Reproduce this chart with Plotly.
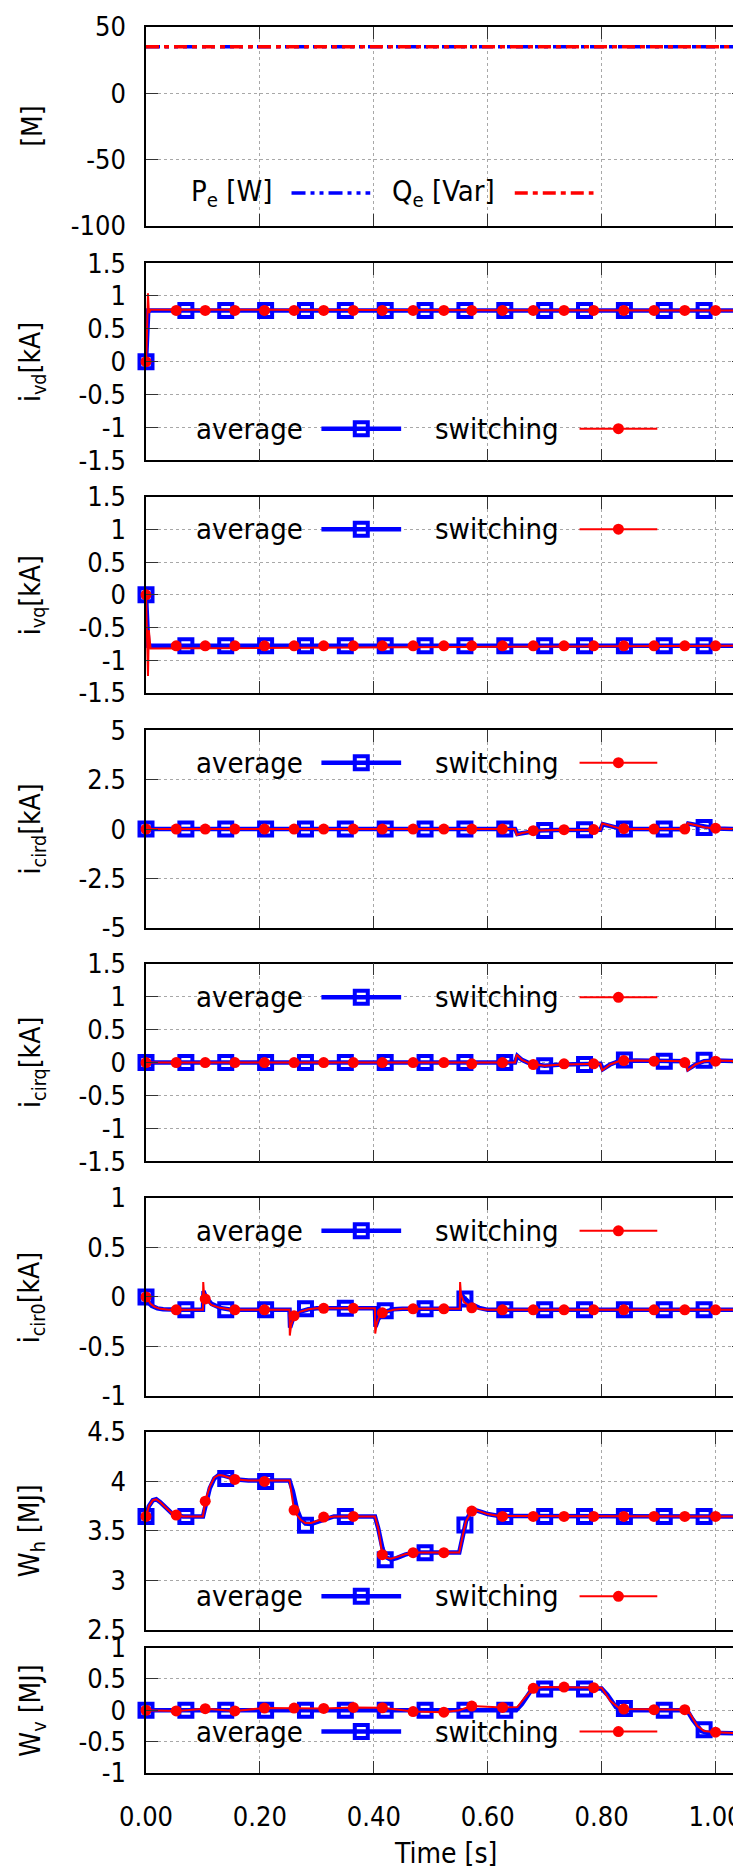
import plotly.graph_objects as go

# ---------------- data ----------------
# Panel 1: electrical powers [M]
t_pq = [0.0, 1.05]
pe_vals = [35.0, 35.0]
qe_vals = [35.0, 35.0]

# marker sample times (gnuplot point interval)
t_avg_mk = [0.0, 0.07, 0.14, 0.21, 0.28, 0.35, 0.42, 0.49, 0.56, 0.63, 0.70, 0.77, 0.84, 0.91, 0.98, 1.05]
t_sw_mk = [0.0, 0.053, 0.104, 0.156, 0.208, 0.260, 0.312, 0.364, 0.415, 0.469, 0.523, 0.572,
           0.626, 0.680, 0.734, 0.786, 0.839, 0.892, 0.946, 1.0]

# Panel 2: i_vd [kA]
ivd_avg_t = [0.0, 0.002, 0.004, 1.05]
ivd_avg = [0.0, 0.3, 0.78, 0.78]
ivd_sw_t = [0.0, 0.001, 0.0035, 0.005, 0.008, 1.05]
ivd_sw = [0.0, 0.2, 1.04, 0.74, 0.79, 0.78]
ivd_avg_mk = [0.0, 0.78, 0.78, 0.78, 0.78, 0.78, 0.78, 0.78, 0.78, 0.78, 0.78, 0.78, 0.78, 0.78, 0.78, 0.78]
ivd_sw_mk = [0.0, 0.78, 0.78, 0.78, 0.78, 0.78, 0.78, 0.78, 0.78, 0.78, 0.78, 0.78, 0.78, 0.78, 0.78,
             0.78, 0.78, 0.78, 0.78, 0.78]

# Panel 3: i_vq [kA]
ivq_avg_t = [0.0, 0.002, 0.004, 1.05]
ivq_avg = [0.0, -0.3, -0.78, -0.78]
ivq_sw_t = [0.0, 0.001, 0.0035, 0.005, 0.008, 1.05]
ivq_sw = [0.0, -0.3, -1.24, -0.54, -0.82, -0.78]
ivq_avg_mk = [0.0, -0.78, -0.78, -0.78, -0.78, -0.78, -0.78, -0.78, -0.78, -0.78, -0.78, -0.78, -0.78,
              -0.78, -0.78, -0.78]
ivq_sw_mk = [0.0, -0.78, -0.78, -0.78, -0.78, -0.78, -0.78, -0.78, -0.78, -0.78, -0.78, -0.78, -0.78,
             -0.78, -0.78, -0.78, -0.78, -0.78, -0.78, -0.78]

# Panel 4: i_cird [kA]
icird_avg_t = [0.0, 0.648, 0.652, 0.66, 0.675, 0.69, 0.72, 0.798, 0.802, 0.815, 0.83, 0.85,
               0.948, 0.952, 0.965, 0.98, 1.0, 1.05]
icird_avg = [0.0, 0.0, -0.25, -0.2, -0.12, -0.07, -0.04, -0.03, 0.25, 0.15, 0.05, 0.01,
             0.0, 0.28, 0.2, 0.1, 0.03, 0.0]
icird_sw_t = [0.0, 0.648, 0.651, 0.66, 0.675, 0.69, 0.72, 0.798, 0.801, 0.815, 0.83, 0.85,
              0.948, 0.951, 0.965, 0.98, 1.0, 1.05]
icird_sw = [0.0, 0.0, -0.3, -0.2, -0.12, -0.07, -0.04, -0.03, 0.28, 0.15, 0.05, 0.01,
            0.0, 0.3, 0.2, 0.1, 0.03, 0.0]
icird_avg_mk = [0.0, 0.0, 0.0, 0.0, 0.0, 0.0, 0.0, 0.0, 0.0, 0.0, -0.07, -0.03, 0.0, 0.0, 0.08, 0.0]
icird_sw_mk = [0.0, 0.0, 0.0, 0.0, 0.0, 0.0, 0.0, 0.0, 0.0, 0.0, 0.0, 0.0, 0.0, -0.08, -0.03,
               -0.02, 0.02, 0.0, 0.0, 0.05]

# Panel 5: i_cirq [kA]
icirq_avg_t = [0.0, 0.648, 0.652, 0.66, 0.675, 0.70, 0.73, 0.798, 0.802, 0.815, 0.83, 0.86,
               0.948, 0.952, 0.965, 0.98, 1.0, 1.05]
icirq_avg = [0.0, 0.0, 0.1, 0.04, -0.02, -0.05, -0.03, -0.02, -0.1, -0.03, 0.02, 0.03,
             0.02, -0.1, -0.03, 0.02, 0.03, 0.02]
icirq_sw_t = [0.0, 0.648, 0.651, 0.66, 0.675, 0.70, 0.73, 0.798, 0.801, 0.815, 0.83, 0.86,
              0.948, 0.951, 0.965, 0.98, 1.0, 1.05]
icirq_sw = [0.0, 0.0, 0.12, 0.04, -0.02, -0.05, -0.03, -0.02, -0.12, -0.03, 0.02, 0.03,
            0.02, -0.12, -0.03, 0.02, 0.03, 0.02]
icirq_avg_mk = [0.0, 0.0, 0.0, 0.0, 0.0, 0.0, 0.0, 0.0, 0.0, 0.0, -0.05, -0.03, 0.04, 0.02, 0.035, 0.02]
icirq_sw_mk = [0.0, 0.0, 0.0, 0.0, 0.0, 0.0, 0.0, 0.0, 0.0, 0.0, 0.0, -0.02, 0.0, -0.03, -0.02,
               -0.02, 0.03, 0.02, 0.0, 0.02]

# Panel 6: i_cir0 [kA]
icir0_avg_t = [0.0, 0.005, 0.01, 0.02, 0.03, 0.045, 0.06, 0.1, 0.101, 0.105, 0.115, 0.13, 0.15,
               0.252, 0.253, 0.258, 0.27, 0.285, 0.30, 0.402, 0.403, 0.408, 0.42, 0.435, 0.45,
               0.551, 0.552, 0.557, 0.57, 0.585, 0.60, 1.05]
icir0_avg = [0.0, -0.06, -0.09, -0.115, -0.125, -0.13, -0.13, -0.13, 0.06, 0.0, -0.07, -0.11, -0.13,
             -0.13, -0.31, -0.22, -0.15, -0.125, -0.115, -0.115, -0.3, -0.22, -0.15, -0.125, -0.12,
             -0.12, 0.05, 0.0, -0.07, -0.11, -0.13, -0.13]
icir0_sw_t = [0.0, 0.003, 0.008, 0.015, 0.025, 0.04, 0.055, 0.1, 0.1005, 0.102, 0.106, 0.115, 0.13,
              0.15, 0.252, 0.2525, 0.255, 0.26, 0.27, 0.285, 0.30, 0.402, 0.4025, 0.405, 0.41, 0.42,
              0.435, 0.45, 0.551, 0.5515, 0.553, 0.558, 0.57, 0.585, 0.60, 1.05]
icir0_sw = [0.0, -0.02, -0.07, -0.1, -0.12, -0.13, -0.13, -0.13, 0.15, 0.02, -0.03, -0.08, -0.11,
            -0.13, -0.13, -0.39, -0.28, -0.2, -0.15, -0.125, -0.115, -0.115, -0.37, -0.27, -0.19,
            -0.15, -0.13, -0.12, -0.12, 0.15, 0.03, -0.05, -0.1, -0.12, -0.13, -0.13]
icir0_avg_mk = [0.0, -0.13, -0.13, -0.13, -0.12, -0.115, -0.14, -0.12, -0.02, -0.13, -0.13, -0.13,
                -0.13, -0.13, -0.13, -0.13]
icir0_sw_mk = [0.0, -0.13, -0.02, -0.13, -0.13, -0.19, -0.115, -0.115, -0.16, -0.12, -0.12, -0.11,
               -0.13, -0.13, -0.13, -0.13, -0.13, -0.13, -0.13, -0.13]

# Panel 7: W_h [MJ]
wh_avg_t = [0.0, 0.005, 0.012, 0.018, 0.025, 0.035, 0.045, 0.055, 0.065, 0.1, 0.105, 0.112, 0.12,
            0.128, 0.135, 0.145, 0.16, 0.18, 0.252, 0.258, 0.265, 0.272, 0.28, 0.29, 0.30, 0.315,
            0.33, 0.402, 0.408, 0.415, 0.42, 0.43, 0.44, 0.455, 0.47, 0.550, 0.556, 0.562, 0.570,
            0.578, 0.59, 0.60, 0.62, 1.05]
wh_avg = [3.646, 3.75, 3.81, 3.82, 3.79, 3.73, 3.68, 3.655, 3.646, 3.646, 3.75, 3.93, 4.03,
          4.065, 4.06, 4.04, 4.02, 4.01, 4.01, 3.9, 3.72, 3.62, 3.575, 3.57, 3.59, 3.625,
          3.646, 3.646, 3.52, 3.33, 3.24, 3.21, 3.225, 3.26, 3.283, 3.283, 3.45, 3.6, 3.69,
          3.71, 3.69, 3.67, 3.65, 3.646]
wh_sw_t = [0.0, 0.005, 0.012, 0.018, 0.025, 0.035, 0.045, 0.055, 0.065, 0.1, 0.104, 0.112, 0.12,
           0.128, 0.135, 0.145, 0.16, 0.18, 0.252, 0.26, 0.265, 0.272, 0.28, 0.29, 0.30, 0.315,
           0.33, 0.402, 0.408, 0.415, 0.42, 0.43, 0.44, 0.455, 0.47, 0.550, 0.556, 0.562, 0.572,
           0.578, 0.59, 0.60, 0.62, 1.05]
wh_sw = [3.646, 3.75, 3.81, 3.82, 3.79, 3.73, 3.68, 3.66, 3.646, 3.646, 3.80, 3.95, 4.04,
         4.065, 4.06, 4.04, 4.02, 4.01, 4.01, 3.71, 3.66, 3.61, 3.58, 3.58, 3.6, 3.63,
         3.646, 3.646, 3.52, 3.26, 3.23, 3.22, 3.235, 3.265, 3.283, 3.283, 3.45, 3.6, 3.70,
         3.71, 3.69, 3.67, 3.65, 3.646]
wh_avg_mk = [3.646, 3.646, 4.03, 4.0, 3.556, 3.646, 3.21, 3.28, 3.56, 3.646, 3.646, 3.646, 3.646,
             3.646, 3.646, 3.646]
wh_sw_mk = [3.646, 3.66, 3.80, 4.02, 4.0, 3.71, 3.64, 3.646, 3.26, 3.28, 3.28, 3.70, 3.646, 3.646,
            3.646, 3.646, 3.646, 3.646, 3.646, 3.646]

# Panel 8: W_v [MJ]
wv_avg_t = [0.0, 0.65, 0.66, 0.675, 0.69, 0.80, 0.81, 0.825, 0.835, 0.95, 0.96, 0.975, 0.985, 1.05]
wv_avg = [0.0, 0.0, 0.1, 0.3, 0.345, 0.345, 0.25, 0.05, 0.0, 0.0, -0.15, -0.33, -0.36, -0.37]
wv_sw_t = [0.0, 0.053, 0.104, 0.156, 0.208, 0.260, 0.312, 0.364, 0.415, 0.469, 0.523, 0.55, 0.572,
           0.626, 0.652, 0.665, 0.68, 0.70, 0.734, 0.786, 0.80, 0.815, 0.83, 0.839, 0.892, 0.946,
           0.955, 0.968, 0.98, 1.0, 1.05]
wv_sw = [0.0, -0.01, 0.025, -0.01, 0.035, 0.035, 0.03, 0.045, 0.04, -0.02, -0.03, 0.0, 0.066,
         0.045, 0.05, 0.2, 0.35, 0.37, 0.37, 0.36, 0.36, 0.15, 0.04, 0.02, 0.01, 0.01,
         -0.05, -0.25, -0.33, -0.35, -0.37]
wv_avg_mk = [0.0, 0.0, 0.0, 0.0, 0.0, 0.0, 0.0, 0.0, 0.0, 0.0, 0.34, 0.34, 0.03, 0.0, -0.31, -0.36]
wv_sw_mk = [0.0, -0.01, 0.025, -0.01, 0.035, 0.035, 0.03, 0.045, 0.04, -0.02, -0.03, 0.066, 0.045,
            0.35, 0.37, 0.36, 0.02, 0.01, 0.01, -0.35]

# axis labels / ticks
y_titles = ["[M]", "i<sub>vd</sub>[kA]", "i<sub>vq</sub>[kA]", "i<sub>cird</sub>[kA]",
            "i<sub>cirq</sub>[kA]", "i<sub>cir0</sub>[kA]", "W<sub>h</sub> [MJ]", "W<sub>v</sub> [MJ]"]
y_ranges = [[-100, 50], [-1.5, 1.5], [-1.5, 1.5], [-5, 5], [-1.5, 1.5], [-1, 1], [2.5, 4.5], [-1, 1]]
y_tickvals = [[-100, -50, 0, 50],
              [-1.5, -1, -0.5, 0, 0.5, 1, 1.5],
              [-1.5, -1, -0.5, 0, 0.5, 1, 1.5],
              [-5, -2.5, 0, 2.5, 5],
              [-1.5, -1, -0.5, 0, 0.5, 1, 1.5],
              [-1, -0.5, 0, 0.5, 1],
              [2.5, 3, 3.5, 4, 4.5],
              [-1, -0.5, 0, 0.5, 1]]
y_ticktext = [["-100", "-50", "0", "50"],
              ["-1.5", "-1", "-0.5", "0", "0.5", "1", "1.5"],
              ["-1.5", "-1", "-0.5", "0", "0.5", "1", "1.5"],
              ["-5", "-2.5", "0", "2.5", "5"],
              ["-1.5", "-1", "-0.5", "0", "0.5", "1", "1.5"],
              ["-1", "-0.5", "0", "0.5", "1"],
              ["2.5", "3", "3.5", "4", "4.5"],
              ["-1", "-0.5", "0", "0.5", "1"]]
x_tickvals = [0.0, 0.2, 0.4, 0.6, 0.8, 1.0]
x_ticktext = ["0.00", "0.20", "0.40", "0.60", "0.80", "1.00"]
x_title = "Time [s]"

series = [
    (ivd_avg_t, ivd_avg, ivd_sw_t, ivd_sw, ivd_avg_mk, ivd_sw_mk),
    (ivq_avg_t, ivq_avg, ivq_sw_t, ivq_sw, ivq_avg_mk, ivq_sw_mk),
    (icird_avg_t, icird_avg, icird_sw_t, icird_sw, icird_avg_mk, icird_sw_mk),
    (icirq_avg_t, icirq_avg, icirq_sw_t, icirq_sw, icirq_avg_mk, icirq_sw_mk),
    (icir0_avg_t, icir0_avg, icir0_sw_t, icir0_sw, icir0_avg_mk, icir0_sw_mk),
    (wh_avg_t, wh_avg, wh_sw_t, wh_sw, wh_avg_mk, wh_sw_mk),
    (wv_avg_t, wv_avg, wv_sw_t, wv_sw, wv_avg_mk, wv_sw_mk),
]

# ---------------- layout geometry (pixels) ----------------
W, H = 741, 1872
ML, MR, MT, MB = 138, 3, 16, 107
PLOT_TOP, PLOT_BOT = MT, H - MB
PH = PLOT_BOT - PLOT_TOP
PW = W - ML - MR
panels_px = [(16, 215), (252.5, 450), (486.7, 683), (720.7, 918.3), (954.3, 1152.3),
             (1189, 1387.3), (1423.3, 1621.7), (1639.3, 1765)]
legend_frac = [0.165, 0.16, 0.835, 0.837, 0.83, 0.834, 0.17, 0.33]

FONT = "DejaVu Sans Condensed, DejaVu Sans"
TICK_SIZE = 27
LEG_SIZE = 29
TITLE_SIZE = 28
BLUE = "#0000ff"
RED = "#ff0000"
GRID = "#a8a8a8"


def dom(top, bot):
    return [(PLOT_BOT - bot) / PH, (PLOT_BOT - top) / PH]


def px2paper(px):
    return (px - ML) / PW


fig = go.Figure()

# Panel 1 traces
fig.add_trace(go.Scatter(x=t_pq, y=pe_vals, mode="lines", xaxis="x", yaxis="y",
                         line=dict(color=BLUE, width=3.5, dash="14px,5px,4px,5px,4px,5px"),
                         showlegend=False))
fig.add_trace(go.Scatter(x=t_pq, y=qe_vals, mode="lines", xaxis="x", yaxis="y",
                         line=dict(color=RED, width=3.5, dash="13px,5px,5px,5px"),
                         showlegend=False))

for i, (at, ay, st, sy, amk, smk) in enumerate(series):
    n = i + 2
    xa, ya = f"x{n}", f"y{n}"
    fig.add_trace(go.Scatter(x=at, y=ay, mode="lines", xaxis=xa, yaxis=ya,
                             line=dict(color=BLUE, width=4.5), showlegend=False))
    fig.add_trace(go.Scatter(x=t_avg_mk, y=amk, mode="markers", xaxis=xa, yaxis=ya, cliponaxis=False,
                             marker=dict(symbol="square-open", size=13, color=BLUE,
                                         line=dict(width=4, color=BLUE)),
                             showlegend=False))
    fig.add_trace(go.Scatter(x=st, y=sy, mode="lines", xaxis=xa, yaxis=ya,
                             line=dict(color=RED, width=2), showlegend=False))
    fig.add_trace(go.Scatter(x=t_sw_mk, y=smk, mode="markers", xaxis=xa, yaxis=ya, cliponaxis=False,
                             marker=dict(symbol="circle", size=11, color=RED), showlegend=False))

layout = dict(
    width=W, height=H,
    margin=dict(l=ML, r=MR, t=MT, b=MB, pad=0),
    paper_bgcolor="white", plot_bgcolor="white",
    font=dict(family=FONT, size=TICK_SIZE, color="black"),
    showlegend=False,
)

axis_common = dict(
    showline=True, linecolor="black", linewidth=1.5, mirror="ticks",
    ticks="inside", ticklen=12, tickwidth=1.2, tickcolor="#333333",
    showgrid=True, gridcolor=GRID, griddash="dot", gridwidth=1,
    zeroline=False,
    tickfont=dict(family=FONT, size=TICK_SIZE, color="black"),
)

shapes = []
annotations = []
for k in range(8):
    n = k + 1
    sfx = "" if n == 1 else str(n)
    top, bot = panels_px[k]
    layout[f"xaxis{sfx}"] = dict(
        axis_common, domain=[0, 1], range=[0, 1.05], anchor=f"y{sfx}",
        tickmode="array", tickvals=x_tickvals, ticktext=x_ticktext,
        showticklabels=(n == 8), ticklabelstandoff=19,
    )
    layout[f"yaxis{sfx}"] = dict(
        axis_common, domain=dom(top, bot), range=y_ranges[k], anchor=f"x{sfx}",
        tickmode="array", tickvals=y_tickvals[k], ticktext=y_ticktext[k],
        ticklabelstandoff=13,
    )
    yref = f"y{sfx} domain"
    # y-axis title
    annotations.append(dict(text=y_titles[k], x=px2paper(24), y=0.5, xref="paper", yref=yref,
                            xanchor="center", yanchor="middle", textangle=-90, showarrow=False,
                            font=dict(family=FONT, size=TITLE_SIZE, color="black")))
    fy = legend_frac[k]
    hbox = 18 / (bot - top)
    if n == 1:
        box_right = px2paper(600)
        items = [("P<sub>e</sub> [W]", 266, 284, 363, BLUE, "14px,5px,4px,5px,4px,5px", None),
                 ("Q<sub>e</sub> [Var]", 490, 508, 587, RED, "13px,5px,5px,5px", None)]
    else:
        box_right = px2paper(666)
        items = [("average", 298, 314, 394, BLUE, "solid", "square"),
                 ("switching", 554, 573, 651, RED, "solid", "circle")]
    shapes.append(dict(type="rect", xref="paper", yref=yref, x0=px2paper(ML + 1), x1=box_right,
                       y0=fy - hbox, y1=fy + hbox, fillcolor="white", line=dict(width=0),
                       layer="between"))
    for (txt, tx_r, l0, l1, col, dash, mk) in items:
        annotations.append(dict(text=txt, x=px2paper(tx_r), y=fy, xref="paper", yref=yref,
                                xanchor="right", yanchor="middle", showarrow=False,
                                font=dict(family=FONT, size=LEG_SIZE, color="black")))
        lw = 3.5 if n == 1 else (4.5 if col == BLUE else 2)
        shapes.append(dict(type="line", xref="paper", yref=yref, x0=px2paper(l0), x1=px2paper(l1),
                           y0=fy, y1=fy, line=dict(color=col, width=lw, dash=dash), layer="above"))
        xc = px2paper((l0 + l1) / 2)
        if mk == "square":
            shapes.append(dict(type="rect", xref="paper", yref=yref, xsizemode="pixel",
                               ysizemode="pixel", xanchor=xc, yanchor=fy, x0=-6.5, x1=6.5,
                               y0=-6.5, y1=6.5,
                               line=dict(color=col, width=4), fillcolor="rgba(0,0,0,0)",
                               layer="above"))
        elif mk == "circle":
            shapes.append(dict(type="circle", xref="paper", yref=yref, xsizemode="pixel",
                               ysizemode="pixel", xanchor=xc, yanchor=fy, x0=-5.5, x1=5.5,
                               y0=-5.5, y1=5.5,
                               line=dict(color=col, width=0), fillcolor=col, layer="above"))

annotations.append(dict(text=x_title, x=0.5, y=(PLOT_BOT - 1846) / PH, xref="paper", yref="paper",
                        xanchor="center", yanchor="middle", showarrow=False,
                        font=dict(family=FONT, size=28, color="black")))

layout["shapes"] = shapes
layout["annotations"] = annotations
fig.update_layout(**layout)
fig.write_html("out.html")
